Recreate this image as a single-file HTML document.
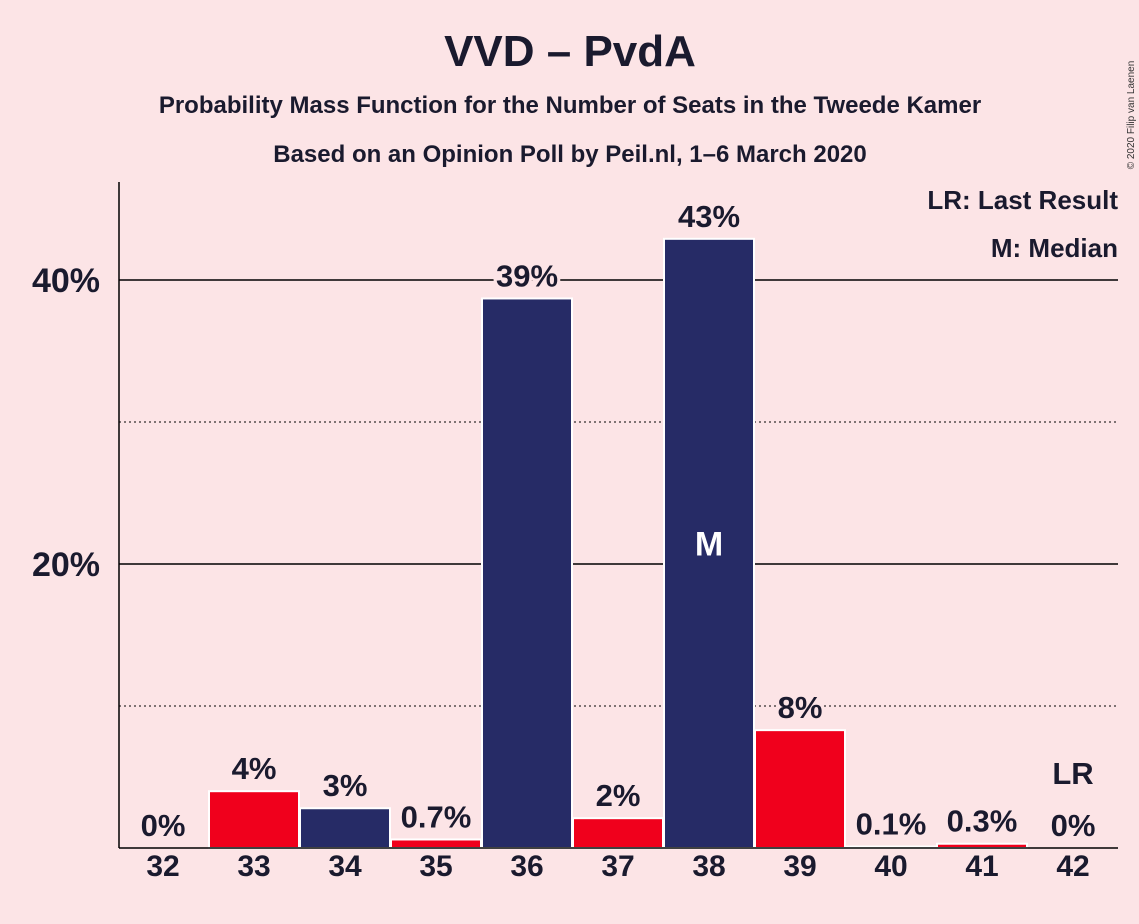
<!DOCTYPE html>
<html><head><meta charset="utf-8"><style>
html,body{margin:0;padding:0;background:#FCE4E6;}
svg{display:block;font-family:"Liberation Sans",sans-serif;}
</style></head><body>
<svg id="chart" width="1139" height="924" viewBox="0 0 1139 924">
<rect width="1139" height="924" fill="#FCE4E6"/>
<text x="570" y="66" text-anchor="middle" font-size="44" font-weight="bold" fill="#1a1a2e">VVD – PvdA</text>
<text x="570" y="113" text-anchor="middle" font-size="24" font-weight="bold" fill="#1a1a2e">Probability Mass Function for the Number of Seats in the Tweede Kamer</text>
<text x="570" y="162" text-anchor="middle" font-size="24" font-weight="bold" fill="#1a1a2e">Based on an Opinion Poll by Peil.nl, 1–6 March 2020</text>
<text transform="translate(1134,115) rotate(-90)" text-anchor="middle" font-size="10" fill="#333">© 2020 Filip van Laenen</text>
<g id="grid"></g>
<g id="bars"></g>
<g id="labels"></g>
<line x1="119" y1="182" x2="119" y2="848" stroke="#000" stroke-width="1.5"/>
<line x1="119" y1="848" x2="1118" y2="848" stroke="#000" stroke-width="1.5"/>
<text x="1118" y="209" text-anchor="end" font-size="26" font-weight="bold" fill="#1a1a2e">LR: Last Result</text>
<text x="1118" y="257" text-anchor="end" font-size="26" font-weight="bold" fill="#1a1a2e">M: Median</text>
</svg>
<script>
const seats=[32,33,34,35,36,37,38,39,40,41,42];
const probs=[0,4.0,2.8,0.6,38.7,2.1,42.9,8.3,0.1,0.3,0];
const printed=["0%","4%","3%","0.7%","39%","2%","43%","8%","0.1%","0.3%","0%"];
const parties=["red","red","navy","red","navy","red","navy","red","red","red","red"];
const yTicks=[20,40];
const yMinor=[10,30];
const medianSeat=38, lastResultSeat=42;
const NS="http://www.w3.org/2000/svg";
const y=v=>848-v*14.2;
const x=i=>163+i*91;
const col={red:"#F0001C",navy:"#262B66"};
function mk(t,a,p){const e=document.createElementNS(NS,t);for(const k in a)e.setAttribute(k,a[k]);p.appendChild(e);return e;}
const grid=document.getElementById('grid'),bars=document.getElementById('bars'),labels=document.getElementById('labels');
yMinor.forEach(v=>{const l=mk('line',{x1:119,x2:1118,y1:y(v),y2:y(v),stroke:'#000','stroke-width':1,'stroke-dasharray':'2,3'},grid);

});
yTicks.forEach(v=>{const l=mk('line',{x1:119,x2:1118,y1:y(v),y2:y(v),stroke:'#000','stroke-width':1.5},grid);


const t=mk('text',{x:100,y:y(v)+12,'text-anchor':'end','font-size':34,'font-weight':'bold',fill:'#1a1a2e'},grid);t.textContent=v+'%';

});
seats.forEach((s,i)=>{
 const h=848-y(probs[i]);
 if(probs[i]>0){const r=mk('rect',{x:x(i)-45,y:y(probs[i]),width:90,height:h,fill:col[parties[i]],stroke:'#fff','stroke-width':2},bars);
 
 }
 const t=mk('text',{x:x(i),y:y(probs[i])-12,'text-anchor':'middle','font-size':31,'font-weight':'bold',fill:'#1a1a2e',stroke:'#FCE4E6','stroke-width':6,'paint-order':'stroke'},labels);t.textContent=printed[i];
 
 
 const xl=mk('text',{x:x(i),y:876,'text-anchor':'middle','font-size':30,'font-weight':'bold',fill:'#1a1a2e'},labels);xl.textContent=s;
 
 
 if(s===medianSeat){const m=mk('text',{x:x(i),y:y(probs[i]/2)+12,'text-anchor':'middle','font-size':34,'font-weight':'bold',fill:'#fff'},labels);m.textContent='M';
 
 }
 if(s===lastResultSeat){const m=mk('text',{x:x(i),y:y(probs[i])-64,'text-anchor':'middle','font-size':31,'font-weight':'bold',fill:'#1a1a2e'},labels);m.textContent='LR';
 
 }
});
</script>
</body></html>
